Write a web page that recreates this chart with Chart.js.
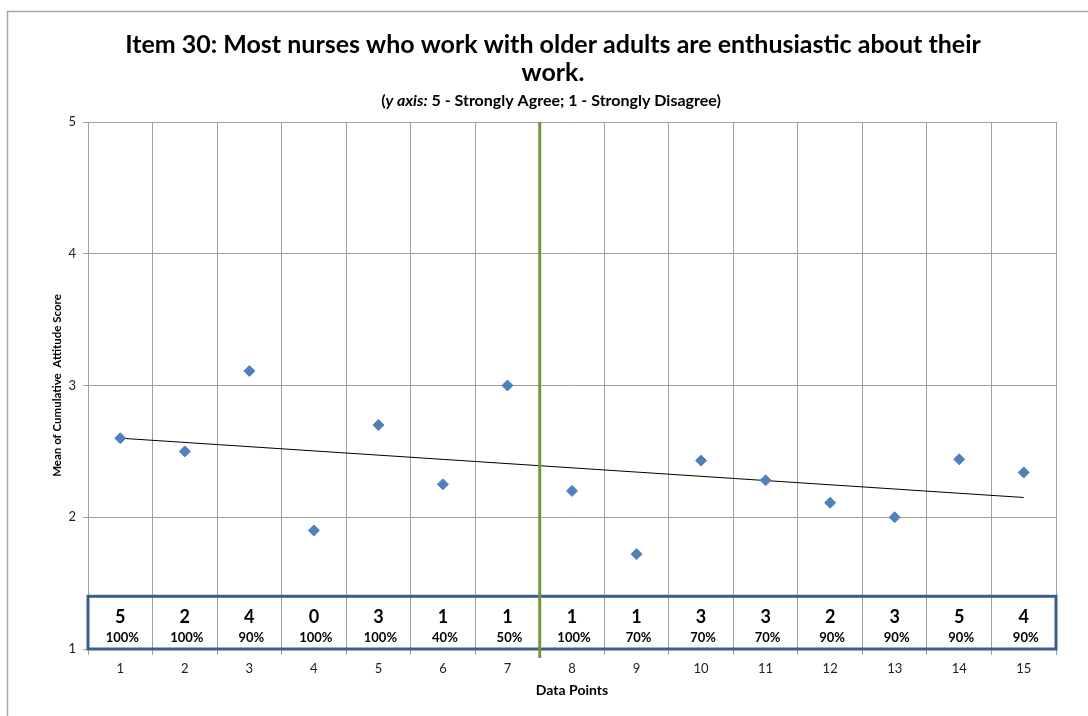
<!DOCTYPE html>
<html>
<head>
    <title>Item 30</title>
    <style>
        body { margin: 0; background: #fff; }
    </style>
</head>
<body>
    <div style="width:1088px;height:716px">
        <canvas id="chart" width="1088" height="716"></canvas>
    </div>
    <script src="https://cdn.jsdelivr.net/npm/chart.js"></script>
    <script>
        // values
        const dataPoints = ['1', '2', '3', '4', '5', '6', '7', '8', '9', '10', '11', '12', '13', '14', '15'];
        const meanScores = [2.60, 2.50, 3.11, 1.90, 2.70, 2.25, 3.00, 2.20, 1.72, 2.43, 2.28, 2.11, 2.00, 2.44, 2.34];
        const counts = ['5', '2', '4', '0', '3', '1', '1', '1', '1', '3', '3', '2', '3', '5', '4'];
        const percents = ['100%', '100%', '90%', '100%', '100%', '40%', '50%', '100%', '70%', '70%', '70%', '90%', '90%', '90%', '90%'];
        const trendEnds = [2.60, 2.15];   // trend line at data point 1 and 15
        const phaseBreak = 7;             // green line sits after this data point
        const tableTop = 1.4;             // top of the count/percent box, in y units

        const titleLines = ['Item 30: Most nurses who work with older adults are enthusiastic about their', 'work.'];
        const fontName = 'Lato, "Open Sans", sans-serif';

        const extras = {
            id: 'extras',
            beforeDraw(chart) {
                const ctx = chart.ctx;
                ctx.save();
                ctx.fillStyle = '#fff';
                ctx.fillRect(0, 0, chart.width, chart.height);
                ctx.strokeStyle = '#a6a6a6';
                ctx.lineWidth = 1.5;
                ctx.strokeRect(7.5, 11.5, chart.width + 20, chart.height + 20);
                ctx.restore();
            },
            afterDatasetsDraw(chart) {
                const ctx = chart.ctx;
                const x = chart.scales.x, y = chart.scales.y;
                const area = chart.chartArea;
                ctx.save();
                // count / percent box
                const top = y.getPixelForValue(tableTop);
                ctx.strokeStyle = '#3A5F8E';
                ctx.lineWidth = 3;
                ctx.strokeRect(area.left, top, area.right - area.left, area.bottom - top);
                ctx.fillStyle = '#000';
                ctx.textAlign = 'center';
                ctx.textBaseline = 'middle';
                counts.forEach((c, i) => {
                    const px = x.getPixelForValue(i);
                    ctx.font = 'bold 18px ' + fontName;
                    ctx.fillText(c, px, area.bottom - 32);
                    ctx.font = 'bold 13px ' + fontName;
                    ctx.fillText(percents[i], px + 2, area.bottom - 11);
                });
                // phase change line
                const gx = (x.getPixelForValue(phaseBreak - 1) + x.getPixelForValue(phaseBreak)) / 2;
                ctx.strokeStyle = '#77933C';
                ctx.lineWidth = 3;
                ctx.beginPath();
                ctx.moveTo(gx, area.top);
                ctx.lineTo(gx, area.bottom + 9);
                ctx.stroke();
                ctx.restore();
            },
            afterDraw(chart) {
                const ctx = chart.ctx;
                ctx.save();
                ctx.fillStyle = '#000';
                ctx.textBaseline = 'middle';
                ctx.textAlign = 'center';
                ctx.font = 'bold 25px ' + fontName;
                ctx.fillText(titleLines[0], 553, 45);
                ctx.fillText(titleLines[1], 553, 73);
                // subtitle with italic part
                const partA = '(';
                const partB = 'y axis:';
                const partC = ' 5 - Strongly Agree; 1 - Strongly Disagree)';
                const sub = 'bold 16px ' + fontName;
                const subIt = 'italic bold 16px ' + fontName;
                ctx.font = sub;
                const wA = ctx.measureText(partA).width;
                const wC = ctx.measureText(partC).width;
                ctx.font = subIt;
                const wB = ctx.measureText(partB).width;
                const sx = 551 - (wA + wB + wC) / 2;
                ctx.textAlign = 'left';
                ctx.font = sub;
                ctx.fillText(partA, sx, 101);
                ctx.font = subIt;
                ctx.fillText(partB, sx + wA, 101);
                ctx.font = sub;
                ctx.fillText(partC, sx + wA + wB, 101);
                ctx.restore();
            }
        };

        new Chart(document.getElementById('chart'), {
            type: 'line',
            data: {
                labels: dataPoints,
                datasets: [{
                    data: meanScores,
                    showLine: false,
                    pointStyle: 'rectRot',
                    pointRadius: 5.5,
                    pointBackgroundColor: '#4F81BD',
                    pointBorderColor: '#4F81BD',
                    pointBorderWidth: 1
                }, {
                    data: [{ x: dataPoints[0], y: trendEnds[0] }, { x: dataPoints[dataPoints.length - 1], y: trendEnds[1] }],
                    borderColor: '#000',
                    borderWidth: 1,
                    pointRadius: 0
                }]
            },
            options: {
                responsive: false,
                animation: false,
                layout: { padding: { top: 122, right: 32, left: 0, bottom: 0 } },
                plugins: {
                    legend: { display: false },
                    title: { display: false },
                    tooltip: { enabled: false }
                },
                scales: {
                    x: {
                        offset: true,
                        grid: { offset: true, color: '#a0a0a0', tickLength: 6 },
                        border: { color: '#a0a0a0' },
                        ticks: { color: '#222', font: { family: fontName, size: 13 }, padding: 6, maxRotation: 0 },
                        title: {
                            display: true,
                            text: 'Data Points',
                            color: '#000',
                            font: { family: fontName, size: 14, weight: 'bold' },
                            padding: { top: 0, bottom: 17 }
                        },
                        afterFit(scale) { scale.height = 67; }
                    },
                    y: {
                        min: 1,
                        max: 5,
                        grid: { color: '#a0a0a0', tickLength: 5 },
                        border: { color: '#a0a0a0' },
                        ticks: { stepSize: 1, color: '#222', font: { family: fontName, size: 13 }, padding: 7 },
                        title: {
                            display: true,
                            text: 'Mean of Cumulative  Attitude Score',
                            color: '#000',
                            font: { family: fontName, size: 11.5, weight: 'bold' },
                            padding: { top: 50, bottom: 0 }
                        },
                        afterFit(scale) { scale.width = 88; }
                    }
                }
            },
            plugins: [extras]
        });
    </script>
</body>
</html>
